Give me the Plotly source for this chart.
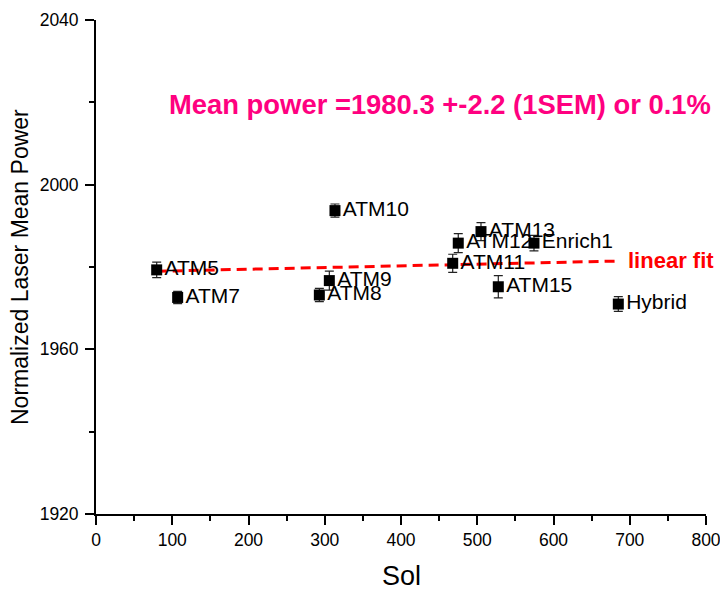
import numpy as np
import plotly.graph_objects as go

# ---- data ----
labels = ["ATM5", "ATM7", "ATM8", "ATM9", "ATM10", "ATM11", "ATM12",
          "ATM13", "Enrich1", "ATM15", "Hybrid"]
sol = [79.6, 107.1, 292.9, 306.0, 313.4, 467.8, 475.1, 504.9, 574.4, 527.6, 685.0]
power = [1979.3, 1972.6, 1973.2, 1976.7, 1993.7, 1980.9, 1985.8, 1988.6,
         1985.8, 1975.2, 1971.0]
power_err = [1.9, 1.5, 1.6, 2.3, 1.6, 2.2, 2.3, 2.2, 1.9, 2.7, 1.8]

x_ticks = [0, 100, 200, 300, 400, 500, 600, 700, 800]
y_ticks = [1920, 1960, 2000, 2040]

title_text = "Mean power =1980.3 +-2.2 (1SEM) or 0.1%"
fit_text = "linear fit"

# ---- linear fit (unweighted) over the data range ----
slope, intercept = np.polyfit(sol, power, 1)
fit_x = np.array([min(sol), max(sol)])
fit_y = slope * fit_x + intercept

FONT = "Liberation Sans, Arial, sans-serif"

fig = go.Figure()

fig.add_trace(go.Scatter(
    x=fit_x, y=fit_y, mode="lines",
    line=dict(color="#FF0000", width=3, dash="10px,6px"),
    hoverinfo="skip", showlegend=False,
))

fig.add_trace(go.Scatter(
    x=sol, y=power, mode="markers+text",
    marker=dict(symbol="square", size=11, color="black", line=dict(width=0)),
    error_y=dict(type="data", array=power_err, visible=True,
                 color="#222222", thickness=1.2, width=4.5),
    text=labels, textposition="middle right",
    textfont=dict(family=FONT, size=21, color="black"),
    showlegend=False,
))

axis_common = dict(
    showline=True, linecolor="black", linewidth=1.8,
    ticks="outside", ticklen=9, tickwidth=1.5, tickcolor="black",
    showgrid=False, zeroline=False, mirror=False,
    tickfont=dict(family=FONT, size=17.5, color="black"),
    ticklabeloverflow="allow", automargin=False,
)

fig.update_xaxes(range=[0, 800], tickvals=x_ticks,
                 minor=dict(ticks="outside", ticklen=5, tickwidth=1.5,
                            tickcolor="black", dtick=50, showgrid=False),
                 **axis_common)
fig.update_yaxes(range=[1920, 2040], tickvals=y_ticks, ticklabelstandoff=3,
                 minor=dict(ticks="outside", ticklen=5, tickwidth=1.5,
                            tickcolor="black", dtick=20, showgrid=False),
                 **axis_common)

fig.add_annotation(
    text=title_text, xref="paper", yref="paper",
    x=(167 - 96) / 610, y=(514 - 104) / 494, xanchor="left", yanchor="middle",
    showarrow=False,
    font=dict(family=FONT, size=27.4, color="#FF0080", weight="bold"),
)
fig.add_annotation(
    text=fit_text, xref="paper", yref="paper",
    x=(626 - 96) / 610, y=(514 - 260) / 494, xanchor="left", yanchor="middle",
    showarrow=False,
    font=dict(family=FONT, size=22, color="#FF0000", weight="bold"),
)
fig.add_annotation(
    text="Normalized Laser Mean Power", xref="paper", yref="paper",
    x=(20 - 96) / 610, y=0.5, xanchor="center", yanchor="middle",
    textangle=-90, showarrow=False,
    font=dict(family=FONT, size=23, color="black"),
)
fig.add_annotation(
    text="Sol", xref="paper", yref="paper",
    x=0.5, y=(514 - 576) / 494, xanchor="center", yanchor="middle",
    showarrow=False,
    font=dict(family=FONT, size=27, color="black"),
)

fig.update_layout(
    width=720, height=592,
    margin=dict(l=96, r=14, t=20, b=78, pad=0),
    paper_bgcolor="white", plot_bgcolor="white",
    font=dict(family=FONT),
)

fig.write_html("out.html")
